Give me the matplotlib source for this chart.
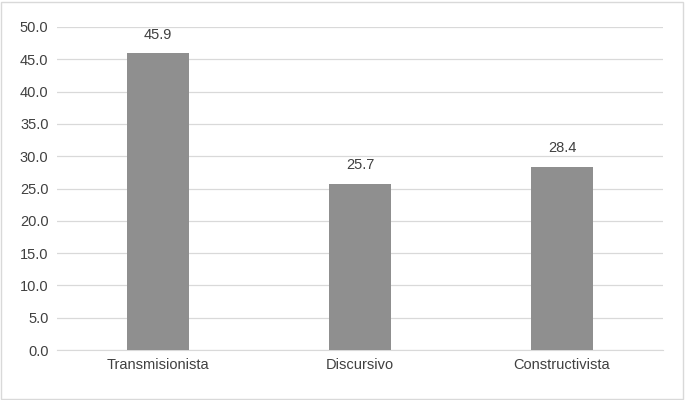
import matplotlib
matplotlib.use("Agg")
import matplotlib.pyplot as plt
from matplotlib.patches import Rectangle

categories = ["Transmisionista", "Discursivo", "Constructivista"]
values = [45.9, 25.7, 28.4]
yticks = [0, 5, 10, 15, 20, 25, 30, 35, 40, 45, 50]

plt.rcParams['font.family'] = ['Liberation Sans', 'DejaVu Sans']
fig = plt.figure(figsize=(6.85, 4.0), dpi=100)
ax = fig.add_axes([0.083, 0.125, 0.885, 0.8075])
x = range(len(categories))
ax.bar(x, values, width=0.31, color="#8f8f8f", zorder=3)
for i, v in zip(x, values):
    ax.text(i, v + 1.8, f"{v:.1f}", ha="center", va="bottom", fontsize=10.5, color="#404040")
ax.set_xlim(-0.5, 2.5)
ax.set_ylim(0, 50)
ax.set_yticks(yticks)
ax.set_yticklabels([f"{t:.1f}" for t in yticks])
ax.set_xticks(list(x))
ax.set_xticklabels(categories)
ax.yaxis.grid(True, color="#d9d9d9", linewidth=0.9, zorder=0)
for s in ["top", "right", "left"]:
    ax.spines[s].set_visible(False)
ax.spines["bottom"].set_color("#d9d9d9")
ax.tick_params(axis="both", length=0, labelsize=10.5, colors="#404040", pad=6)
fig.add_artist(Rectangle((0.002, 0.003), 0.995, 0.993, transform=fig.transFigure,
                         fill=False, edgecolor="#d9d9d9", linewidth=1))
fig.savefig("out.png", dpi=100)
